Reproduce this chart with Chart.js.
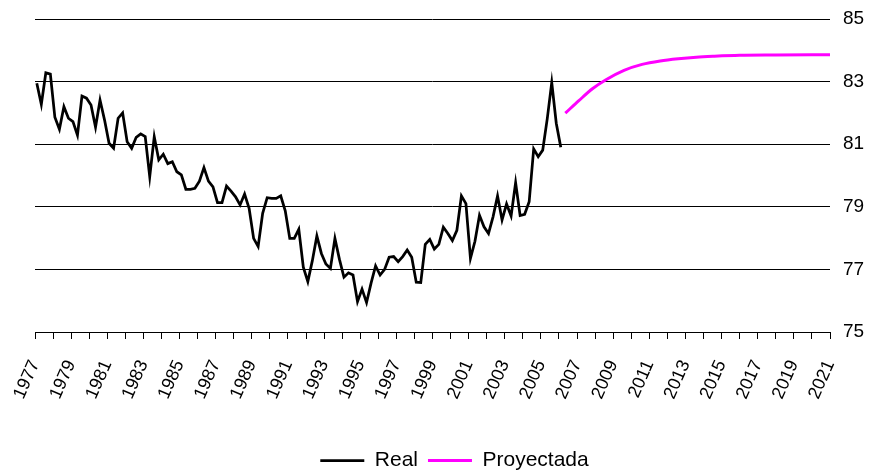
<!DOCTYPE html>
<html lang="es">
<head>
  <meta charset="UTF-8">
  <title>Real vs Proyectada</title>
  <script src="https://cdn.jsdelivr.net/npm/chart.js"></script>
  <style>
    html, body { margin: 0; padding: 0; background: #fff; }
    #chartBox { width: 874px; height: 474px; }
  </style>
</head>
<body>
  <div id="chartBox">
    <canvas id="chartCanvas"></canvas>
  </div>

  <script>
    // Quarterly observed series, first quarter of 1977 onwards
    const realStart = 1977.1;
    const realValues = [
      82.95, 82.27, 83.28, 83.24, 81.86, 81.48, 82.20, 81.83,
      81.72, 81.29, 82.54, 82.47, 82.25, 81.54, 82.41, 81.77,
      81.03, 80.87, 81.83, 82.00, 81.08, 80.87, 81.22, 81.33,
      81.24, 79.96, 81.24, 80.50, 80.68, 80.38, 80.44, 80.12,
      80.02, 79.56, 79.56, 79.59, 79.82, 80.25, 79.82, 79.64,
      79.13, 79.13, 79.66, 79.50, 79.32, 79.06, 79.41, 78.95,
      77.99, 77.73, 78.79, 79.29, 79.27, 79.27, 79.35, 78.87,
      77.99, 77.99, 78.28, 77.07, 76.61, 77.28, 78.07, 77.51,
      77.17, 77.03, 77.99, 77.32, 76.75, 76.89, 76.82, 75.97,
      76.37, 75.94, 76.56, 77.11, 76.82, 77.00, 77.39, 77.41,
      77.25, 77.41, 77.62, 77.39, 76.59, 76.58, 77.80, 77.96,
      77.65, 77.80, 78.35, 78.15, 77.92, 78.25, 79.35, 79.10,
      77.35, 77.90, 78.73, 78.36, 78.15, 78.68, 79.35, 78.58,
      79.09, 78.71, 79.77, 78.72, 78.76, 79.16, 80.85, 80.60,
      80.81, 81.81, 82.97, 81.67, 80.90
    ];

    // Projected series (read at selected dates)
    const projYears = [2006.35, 2007.1, 2007.85, 2008.6, 2009.6, 2010.6, 2011.6,
                       2012.6, 2013.6, 2014.6, 2016.0, 2018.0, 2021.0];
    const projValues = [81.99, 82.39, 82.77, 83.06, 83.36, 83.55, 83.66,
                        83.73, 83.78, 83.81, 83.84, 83.85, 83.86];

    const yTicks = [75, 77, 79, 81, 83, 85];

    const realPoints = realValues.map((v, i) => ({ x: realStart + i * 0.25, y: v }));
    const projPoints = projValues.map((v, i) => ({ x: projYears[i], y: v }));

    const ctx = document.getElementById('chartCanvas').getContext('2d');
    new Chart(ctx, {
      type: 'line',
      data: {
        datasets: [
          {
            label: 'Real',
            data: realPoints,
            borderColor: '#000000',
            backgroundColor: '#000000',
            borderWidth: 2.75,
            pointRadius: 0,
            tension: 0
          },
          {
            label: 'Proyectada',
            data: projPoints,
            borderColor: '#ff00ff',
            backgroundColor: '#ff00ff',
            borderWidth: 3,
            pointRadius: 0,
            cubicInterpolationMode: 'monotone'
          }
        ]
      },
      options: {
        responsive: true,
        maintainAspectRatio: false,
        animation: false,
        layout: {
          padding: { left: 35, right: 0, top: 0, bottom: -7 }
        },
        scales: {
          x: {
            type: 'linear',
            min: 1977,
            max: 2021,
            afterFit: (axis) => { axis.height = 108; },
            grid: {
              drawOnChartArea: false,
              color: '#000000',
              tickLength: 7,
              lineWidth: 1
            },
            border: { display: true, color: '#000000', width: 1 },
            ticks: {
              stepSize: 1,
              autoSkip: false,
              maxRotation: 66,
              minRotation: 66,
              padding: 18,
              color: '#000000',
              font: { family: 'Liberation Sans', size: 18 },
              callback: (value) => (value % 2 === 1 ? String(value) : '')
            }
          },
          y: {
            position: 'right',
            min: 75,
            max: 85,
            afterBuildTicks: (axis) => {
              axis.ticks = yTicks.map(v => ({ value: v }));
            },
            afterFit: (axis) => {
              axis.width = 44;
              axis.paddingTop = 19;
            },
            grid: {
              color: '#000000',
              lineWidth: 1,
              drawTicks: false
            },
            border: { display: false },
            ticks: {
              padding: 13,
              color: '#000000',
              font: { family: 'Liberation Sans', size: 19 }
            }
          }
        },
        plugins: {
          legend: {
            position: 'bottom',
            labels: {
              boxWidth: 44,
              boxHeight: 0,
              padding: 10,
              color: '#000000',
              font: { family: 'Liberation Sans', size: 21 }
            }
          },
          tooltip: { enabled: false }
        }
      }
    });
  </script>
</body>
</html>
